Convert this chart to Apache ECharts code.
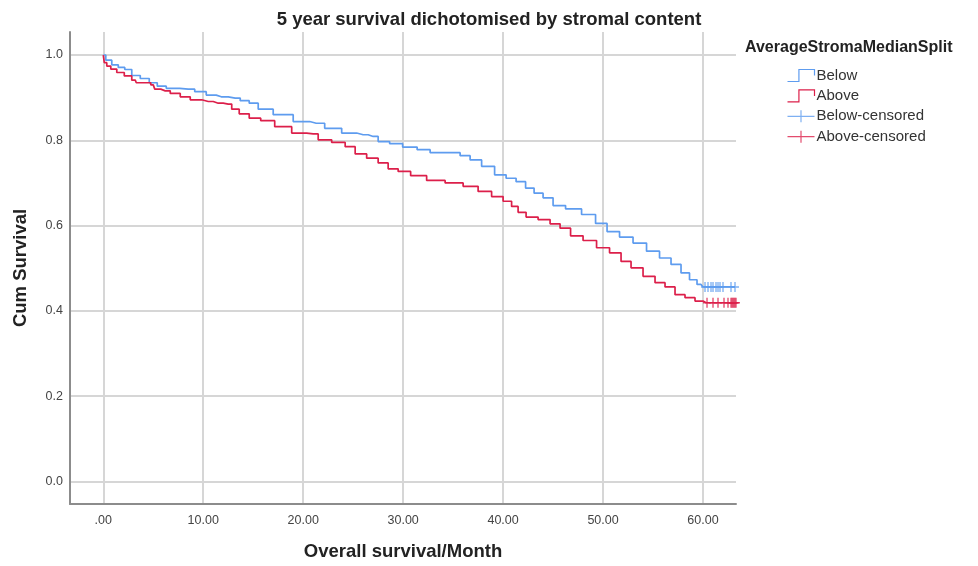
<!DOCTYPE html>
<html>
<head>
<meta charset="utf-8">
<title>5 year survival dichotomised by stromal content</title>
<script src="https://cdn.jsdelivr.net/npm/echarts@6/dist/echarts.min.js"></script>
<style>
  html, body { margin: 0; padding: 0; background: #ffffff; }
  #chart { width: 978px; height: 566px; }
</style>
</head>
<body>
<div id="chart"></div>
<script>
// Kaplan-Meier estimates: [month, cumulative survival]
const belowCurve = [
  [0, 1.0], [0.5, 0.988], [1.2, 0.977], [1.8, 0.971], [2.5, 0.966], [3.2, 0.952],
  [4.2, 0.945], [5.0, 0.935], [5.8, 0.927], [6.8, 0.922], [8.5, 0.920], [9.8, 0.914],
  [10.8, 0.906], [11.8, 0.902], [13.2, 0.899], [14.2, 0.893], [15.0, 0.887], [16.0, 0.873],
  [18.0, 0.860], [20.0, 0.844], [21.3, 0.840], [23.0, 0.828], [24.7, 0.817], [26.0, 0.813],
  [27.0, 0.809], [28.0, 0.797], [29.3, 0.792], [30.6, 0.784], [32.2, 0.778], [33.2, 0.771],
  [35.2, 0.771], [36.2, 0.764], [37.2, 0.754], [38.5, 0.739], [39.8, 0.719], [40.8, 0.711],
  [41.8, 0.703], [42.7, 0.688], [43.5, 0.676], [44.5, 0.665], [45.5, 0.647], [47.0, 0.639],
  [48.7, 0.626], [49.8, 0.605], [51.0, 0.586], [52.3, 0.573], [53.7, 0.559], [55.0, 0.540],
  [56.3, 0.524], [57.3, 0.509], [58.3, 0.489], [59.0, 0.473], [59.8, 0.462], [60.2, 0.456],
  [63.2, 0.456]
];
const aboveCurve = [
  [0, 1.0], [0.2, 0.982], [0.5, 0.974], [1.0, 0.967], [1.7, 0.959], [2.5, 0.951],
  [3.2, 0.941], [3.4, 0.935], [4.5, 0.935], [5.0, 0.930], [5.3, 0.920], [6.2, 0.916],
  [7.2, 0.910], [8.2, 0.902], [9.2, 0.895], [10.5, 0.891], [11.5, 0.887], [12.5, 0.885],
  [13.2, 0.873], [14.0, 0.862], [15.2, 0.852], [16.3, 0.846], [18.0, 0.832], [19.7, 0.817],
  [21.0, 0.815], [22.0, 0.801], [23.7, 0.795], [24.7, 0.785], [25.7, 0.768], [27.0, 0.758],
  [28.0, 0.747], [29.0, 0.733], [30.0, 0.727], [31.5, 0.717], [33.2, 0.706], [35.2, 0.700],
  [36.8, 0.692], [38.2, 0.680], [39.5, 0.668], [40.5, 0.657], [41.2, 0.645], [41.8, 0.631],
  [42.8, 0.620], [44.2, 0.614], [45.2, 0.604], [46.2, 0.594], [47.3, 0.576], [48.7, 0.565],
  [50.0, 0.548], [51.3, 0.536], [52.3, 0.516], [53.3, 0.501], [54.7, 0.481], [55.7, 0.466],
  [56.7, 0.456], [57.7, 0.438], [58.7, 0.431], [59.7, 0.423], [60.3, 0.419], [63.4, 0.419]
];
// Censored observations (month) and the survival level they sit on
const belowCensoredMonths = [60.2, 60.5, 60.8, 61.0, 61.3, 61.5, 61.7, 62.0, 62.8, 63.2];
const belowCensoredLevel = 0.456;
const aboveCensoredMonths = [60.4, 61.0, 61.5, 62.1, 62.5, 62.8, 62.9, 63.0, 63.1, 63.2, 63.3];
const aboveCensoredLevel = 0.419;

const groupNames = ['Below', 'Above', 'Below-censored', 'Above-censored'];
const xTickFormat = v => (v === 0 ? '.00' : v.toFixed(2));

const BLUE = '#5e9cef';
const RED = '#dc1f4a';
const FONT = 'Liberation Sans, Arial, sans-serif';

const stepIcon = 'path://M0,9 L11,9 L11,1 L26,1 L26,5';
const crossIcon = 'path://M0,6 L26,6 M13,0 L13,12';
const tickMark = 'path://M0,5 L10,5 M5,0 L5,10';

const chart = echarts.init(document.getElementById('chart'), null, { renderer: 'canvas' });

chart.setOption({
  animation: false,
  backgroundColor: '#ffffff',
  textStyle: { fontFamily: FONT },
  title: [
    {
      text: '5 year survival dichotomised by stromal content',
      left: 'center',
      top: 5,
      textStyle: { fontSize: 18.5, fontWeight: 'bold', color: '#222', fontFamily: FONT }
    },
    {
      text: 'AverageStromaMedianSplit',
      left: 740,
      top: 35,
      textStyle: { fontSize: 16, fontWeight: 'bold', color: '#222', fontFamily: FONT }
    }
  ],
  legend: {
    orient: 'vertical',
    left: 785,
    top: 67,
    padding: 0,
    itemWidth: 27,
    itemHeight: 12,
    itemGap: 3.4,
    symbolKeepAspect: false,
    textStyle: { fontSize: 15, color: '#333', fontFamily: FONT, padding: [0, 0, 0, -3] },
    data: [
      { name: groupNames[0], icon: stepIcon, itemStyle: { color: 'none', borderColor: BLUE, borderWidth: 1.2 } },
      { name: groupNames[1], icon: stepIcon, itemStyle: { color: 'none', borderColor: RED, borderWidth: 1.2 } },
      { name: groupNames[2], icon: crossIcon, itemStyle: { color: 'none', borderColor: BLUE, borderWidth: 1.2 } },
      { name: groupNames[3], icon: crossIcon, itemStyle: { color: 'none', borderColor: RED, borderWidth: 1.2 } }
    ]
  },
  grid: { left: 70, right: 242, top: 32, bottom: 61, containLabel: false },
  xAxis: {
    type: 'value',
    min: -3.33,
    max: 63.3,
    splitNumber: 7,
    name: 'Overall survival/Month',
    nameLocation: 'middle',
    nameGap: 38,
    nameTextStyle: { fontSize: 18.5, fontWeight: 'bold', color: '#222', fontFamily: FONT },
    axisLine: { onZero: false, lineStyle: { color: '#8c8c8c', width: 2 } },
    axisTick: { show: false },
    axisLabel: {
      showMinLabel: false, showMaxLabel: false,
      formatter: xTickFormat, fontSize: 12.5, color: '#444', margin: 10
    },
    splitLine: { show: true, showMinLine: false, showMaxLine: false, lineStyle: { color: '#d6d6d6', width: 2 } }
  },
  yAxis: {
    type: 'value',
    min: -0.053,
    max: 1.054,
    splitNumber: 5,
    name: 'Cum Survival',
    nameLocation: 'middle',
    nameGap: 40,
    nameTextStyle: { fontSize: 18.5, fontWeight: 'bold', color: '#222', fontFamily: FONT },
    axisLine: { show: true, onZero: false, lineStyle: { color: '#8c8c8c', width: 2 } },
    axisTick: { show: false },
    axisLabel: {
      showMinLabel: false, showMaxLabel: false,
      formatter: v => v.toFixed(1), fontSize: 12.5, color: '#444', margin: 7
    },
    splitLine: { show: true, showMinLine: false, showMaxLine: false, lineStyle: { color: '#d6d6d6', width: 2 } }
  },
  series: [
    {
      name: groupNames[0], type: 'line', step: 'middle', data: belowCurve,
      showSymbol: false, symbol: 'none', z: 3,
      lineStyle: { color: BLUE, width: 1.7 }, itemStyle: { color: BLUE }
    },
    {
      name: groupNames[1], type: 'line', step: 'middle', data: aboveCurve,
      showSymbol: false, symbol: 'none', z: 3,
      lineStyle: { color: RED, width: 1.7 }, itemStyle: { color: RED }
    },
    {
      name: groupNames[2], type: 'scatter', symbol: tickMark, symbolSize: [8, 10], z: 4,
      data: belowCensoredMonths.map(m => [m, belowCensoredLevel]),
      itemStyle: { color: 'none', borderColor: BLUE, borderWidth: 1.5 }
    },
    {
      name: groupNames[3], type: 'scatter', symbol: tickMark, symbolSize: [8, 10], z: 4,
      data: aboveCensoredMonths.map(m => [m, aboveCensoredLevel]),
      itemStyle: { color: 'none', borderColor: RED, borderWidth: 1.5 }
    }
  ]
});
</script>
</body>
</html>
